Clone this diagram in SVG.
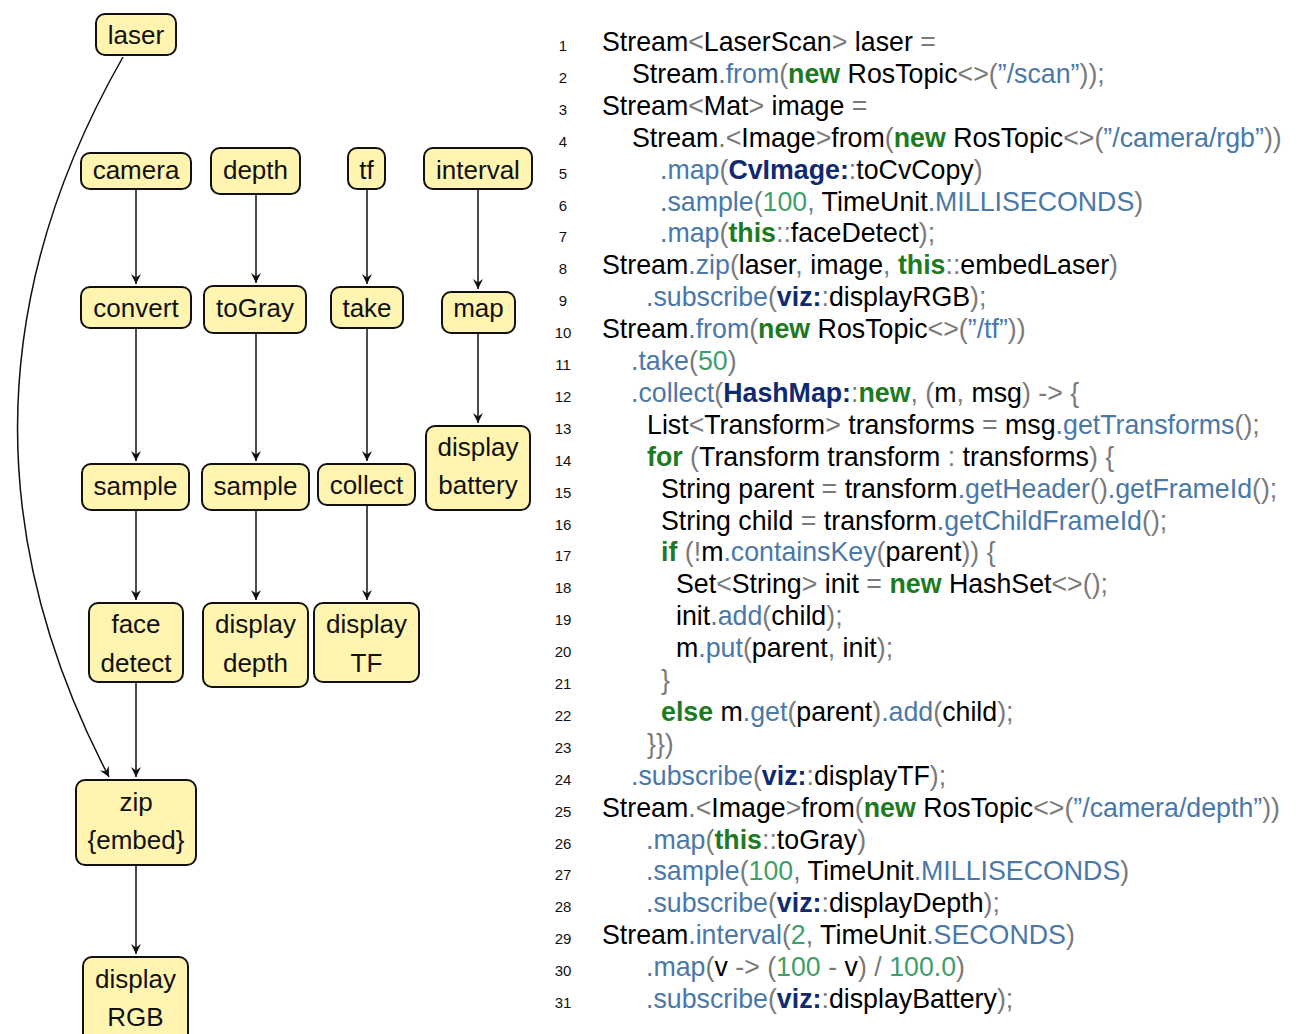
<svg xmlns="http://www.w3.org/2000/svg" width="1297" height="1034" viewBox="0 0 1297 1034">
<style>
.node rect{fill:#fff5b1;stroke:#111;stroke-width:2}
.node text{font-family:"Liberation Sans",Arial,sans-serif;font-size:26px;fill:#111;text-anchor:middle}
.edge{fill:none;stroke:#111;stroke-width:1.5}
.code{font-family:"Liberation Sans",Arial,sans-serif;font-size:26.75px;fill:#000;white-space:pre}
.ln{font-family:"Liberation Sans",Arial,sans-serif;font-size:15px;fill:#111;text-anchor:middle}
.p{fill:#7a7a7a}
.f{fill:#4a78a8}
.k{fill:#1d7a22;font-weight:bold}
.n{fill:#3f9f6c}
.t{fill:#0f2a70;font-weight:bold}
</style>
<defs>
<marker id="arr" viewBox="0 0 10 10" refX="10" refY="5" markerWidth="11" markerHeight="10" markerUnits="userSpaceOnUse" orient="auto">
<path d="M0,0 L10,5 L0,10 L3.5,5 z" fill="#111"/>
</marker>
</defs>

<g id="connectors">
<path class="edge" marker-end="url(#arr)" d="M123,57 C-10,290 -20,530 109,777"/>
<line class="edge" marker-end="url(#arr)" x1="136" y1="189" x2="136" y2="284"/>
<line class="edge" marker-end="url(#arr)" x1="256" y1="194" x2="256" y2="283"/>
<line class="edge" marker-end="url(#arr)" x1="367" y1="189" x2="367" y2="284"/>
<line class="edge" marker-end="url(#arr)" x1="478" y1="189" x2="478" y2="289"/>
<line class="edge" marker-end="url(#arr)" x1="136" y1="328" x2="136" y2="461"/>
<line class="edge" marker-end="url(#arr)" x1="256" y1="333" x2="256" y2="461"/>
<line class="edge" marker-end="url(#arr)" x1="367" y1="328" x2="367" y2="461"/>
<line class="edge" marker-end="url(#arr)" x1="478" y1="333" x2="478" y2="423"/>
<line class="edge" marker-end="url(#arr)" x1="136" y1="510" x2="136" y2="600"/>
<line class="edge" marker-end="url(#arr)" x1="256" y1="510" x2="256" y2="600"/>
<line class="edge" marker-end="url(#arr)" x1="367" y1="505" x2="367" y2="600"/>
<line class="edge" marker-end="url(#arr)" x1="136" y1="682" x2="136" y2="777"/>
<line class="edge" marker-end="url(#arr)" x1="136" y1="865" x2="136" y2="954"/>
</g>

<g id="laser" class="node"><rect x="96" y="14" width="80" height="41" rx="9"/><text x="136" y="44">laser</text></g>
<g id="camera" class="node"><rect x="81" y="153" width="110" height="36" rx="9"/><text x="136" y="179">camera</text></g>
<g id="depth" class="node"><rect x="211" y="148" width="89" height="46" rx="9"/><text x="255.5" y="179">depth</text></g>
<g id="tf" class="node"><rect x="348" y="148" width="37" height="41" rx="9"/><text x="366.5" y="179">tf</text></g>
<g id="interval" class="node"><rect x="424" y="148" width="108" height="41" rx="9"/><text x="478" y="179">interval</text></g>
<g id="convert" class="node"><rect x="81" y="287" width="110" height="41" rx="9"/><text x="136" y="317">convert</text></g>
<g id="toGray" class="node"><rect x="204" y="286" width="102" height="47" rx="9"/><text x="255" y="317">toGray</text></g>
<g id="take" class="node"><rect x="331" y="287" width="72" height="41" rx="9"/><text x="367" y="317">take</text></g>
<g id="map" class="node"><rect x="442" y="292" width="73" height="41" rx="9"/><text x="478.5" y="317">map</text></g>
<g id="sample1" class="node"><rect x="82" y="464" width="107" height="46" rx="9"/><text x="135.5" y="495">sample</text></g>
<g id="sample2" class="node"><rect x="202" y="464" width="107" height="46" rx="9"/><text x="255.5" y="495">sample</text></g>
<g id="collect" class="node"><rect x="318" y="464" width="97" height="41" rx="9"/><text x="366.5" y="494">collect</text></g>
<g id="displayBattery" class="node"><rect x="426" y="426" width="104" height="84" rx="9"/><text x="478" y="456">display</text><text x="478" y="494">battery</text></g>
<g id="faceDetect" class="node"><rect x="89" y="603" width="94" height="79" rx="9"/><text x="136" y="633">face</text><text x="136" y="672">detect</text></g>
<g id="displayDepth" class="node"><rect x="203" y="603" width="105" height="84" rx="9"/><text x="255.5" y="633">display</text><text x="255.5" y="672">depth</text></g>
<g id="displayTF" class="node"><rect x="314" y="603" width="105" height="79" rx="9"/><text x="366.5" y="633">display</text><text x="366.5" y="672">TF</text></g>
<g id="zip" class="node"><rect x="76" y="780" width="120" height="85" rx="9"/><text x="136" y="811">zip</text><text x="136" y="849">{embed}</text></g>
<g id="displayRGB" class="node"><rect x="83" y="957" width="105" height="85" rx="9"/><text x="135.5" y="988">display</text><text x="135.5" y="1026">RGB</text></g>

<g id="linenumbers">
<text class="ln" x="563" y="51">1</text>
<text class="ln" x="563" y="82.9">2</text>
<text class="ln" x="563" y="114.8">3</text>
<text class="ln" x="563" y="146.7">4</text>
<text class="ln" x="563" y="178.6">5</text>
<text class="ln" x="563" y="210.5">6</text>
<text class="ln" x="563" y="242.4">7</text>
<text class="ln" x="563" y="274.3">8</text>
<text class="ln" x="563" y="306.2">9</text>
<text class="ln" x="563" y="338.1">10</text>
<text class="ln" x="563" y="370">11</text>
<text class="ln" x="563" y="401.9">12</text>
<text class="ln" x="563" y="433.8">13</text>
<text class="ln" x="563" y="465.7">14</text>
<text class="ln" x="563" y="497.6">15</text>
<text class="ln" x="563" y="529.5">16</text>
<text class="ln" x="563" y="561.4">17</text>
<text class="ln" x="563" y="593.3">18</text>
<text class="ln" x="563" y="625.2">19</text>
<text class="ln" x="563" y="657.1">20</text>
<text class="ln" x="563" y="689">21</text>
<text class="ln" x="563" y="720.9">22</text>
<text class="ln" x="563" y="752.8">23</text>
<text class="ln" x="563" y="784.7">24</text>
<text class="ln" x="563" y="816.6">25</text>
<text class="ln" x="563" y="848.5">26</text>
<text class="ln" x="563" y="880.4">27</text>
<text class="ln" x="563" y="912.3">28</text>
<text class="ln" x="563" y="944.2">29</text>
<text class="ln" x="563" y="976.1">30</text>
<text class="ln" x="563" y="1008">31</text>
</g>

<g id="code">
<text class="code" x="602" y="51">Stream<tspan class="p">&lt;</tspan>LaserScan<tspan class="p">&gt;</tspan> laser <tspan class="p">=</tspan></text>
<text class="code" x="632" y="82.9">Stream<tspan class="f">.from</tspan><tspan class="p">(</tspan><tspan class="k">new</tspan> RosTopic<tspan class="p">&lt;&gt;(</tspan><tspan class="f">”/scan”</tspan><tspan class="p">));</tspan></text>
<text class="code" x="602" y="114.8">Stream<tspan class="p">&lt;</tspan>Mat<tspan class="p">&gt;</tspan> image <tspan class="p">=</tspan></text>
<text class="code" x="632" y="146.7">Stream<tspan class="p">.&lt;</tspan>Image<tspan class="p">&gt;</tspan>from<tspan class="p">(</tspan><tspan class="k">new</tspan> RosTopic<tspan class="p">&lt;&gt;(</tspan><tspan class="f">”/camera/rgb”</tspan><tspan class="p">))</tspan></text>
<text class="code" x="660" y="178.6"><tspan class="f">.map</tspan><tspan class="p">(</tspan><tspan class="t">CvImage:</tspan><tspan class="p">:</tspan>toCvCopy<tspan class="p">)</tspan></text>
<text class="code" x="660" y="210.5"><tspan class="f">.sample</tspan><tspan class="p">(</tspan><tspan class="n">100</tspan><tspan class="p">,</tspan> TimeUnit<tspan class="f">.MILLISECONDS</tspan><tspan class="p">)</tspan></text>
<text class="code" x="660" y="242.4"><tspan class="f">.map</tspan><tspan class="p">(</tspan><tspan class="k">this</tspan><tspan class="p">::</tspan>faceDetect<tspan class="p">);</tspan></text>
<text class="code" x="602" y="274.3">Stream<tspan class="f">.zip</tspan><tspan class="p">(</tspan>laser<tspan class="p">,</tspan> image<tspan class="p">,</tspan> <tspan class="k">this</tspan><tspan class="p">::</tspan>embedLaser<tspan class="p">)</tspan></text>
<text class="code" x="646" y="306.2"><tspan class="f">.subscribe</tspan><tspan class="p">(</tspan><tspan class="t">viz:</tspan><tspan class="p">:</tspan>displayRGB<tspan class="p">);</tspan></text>
<text class="code" x="602" y="338.1">Stream<tspan class="f">.from</tspan><tspan class="p">(</tspan><tspan class="k">new</tspan> RosTopic<tspan class="p">&lt;&gt;(</tspan><tspan class="f">”/tf”</tspan><tspan class="p">))</tspan></text>
<text class="code" x="631" y="370"><tspan class="f">.take</tspan><tspan class="p">(</tspan><tspan class="n">50</tspan><tspan class="p">)</tspan></text>
<text class="code" x="631" y="401.9"><tspan class="f">.collect</tspan><tspan class="p">(</tspan><tspan class="t">HashMap:</tspan><tspan class="p">:</tspan><tspan class="k">new</tspan><tspan class="p">,</tspan> <tspan class="p">(</tspan>m<tspan class="p">,</tspan> msg<tspan class="p">)</tspan> <tspan class="p">-&gt;</tspan> <tspan class="p">{</tspan></text>
<text class="code" x="647" y="433.8">List<tspan class="p">&lt;</tspan>Transform<tspan class="p">&gt;</tspan> transforms <tspan class="p">=</tspan> msg<tspan class="f">.getTransforms</tspan><tspan class="p">();</tspan></text>
<text class="code" x="647" y="465.7"><tspan class="k">for</tspan> <tspan class="p">(</tspan>Transform transform <tspan class="p">:</tspan> transforms<tspan class="p">)</tspan> <tspan class="p">{</tspan></text>
<text class="code" x="661" y="497.6">String parent <tspan class="p">=</tspan> transform<tspan class="f">.getHeader</tspan><tspan class="p">()</tspan><tspan class="f">.getFrameId</tspan><tspan class="p">();</tspan></text>
<text class="code" x="661" y="529.5">String child <tspan class="p">=</tspan> transform<tspan class="f">.getChildFrameId</tspan><tspan class="p">();</tspan></text>
<text class="code" x="661" y="561.4"><tspan class="k">if</tspan> <tspan class="p">(!</tspan>m<tspan class="f">.containsKey</tspan><tspan class="p">(</tspan>parent<tspan class="p">))</tspan> <tspan class="p">{</tspan></text>
<text class="code" x="676" y="593.3">Set<tspan class="p">&lt;</tspan>String<tspan class="p">&gt;</tspan> init <tspan class="p">=</tspan> <tspan class="k">new</tspan> HashSet<tspan class="p">&lt;&gt;();</tspan></text>
<text class="code" x="676" y="625.2">init<tspan class="f">.add</tspan><tspan class="p">(</tspan>child<tspan class="p">);</tspan></text>
<text class="code" x="676" y="657.1">m<tspan class="f">.put</tspan><tspan class="p">(</tspan>parent<tspan class="p">,</tspan> init<tspan class="p">);</tspan></text>
<text class="code" x="661" y="689"><tspan class="p">}</tspan></text>
<text class="code" x="661" y="720.9"><tspan class="k">else</tspan> m<tspan class="f">.get</tspan><tspan class="p">(</tspan>parent<tspan class="p">)</tspan><tspan class="f">.add</tspan><tspan class="p">(</tspan>child<tspan class="p">);</tspan></text>
<text class="code" x="647" y="752.8"><tspan class="p">}})</tspan></text>
<text class="code" x="631" y="784.7"><tspan class="f">.subscribe</tspan><tspan class="p">(</tspan><tspan class="t">viz:</tspan><tspan class="p">:</tspan>displayTF<tspan class="p">);</tspan></text>
<text class="code" x="602" y="816.6">Stream<tspan class="p">.&lt;</tspan>Image<tspan class="p">&gt;</tspan>from<tspan class="p">(</tspan><tspan class="k">new</tspan> RosTopic<tspan class="p">&lt;&gt;(</tspan><tspan class="f">”/camera/depth”</tspan><tspan class="p">))</tspan></text>
<text class="code" x="646" y="848.5"><tspan class="f">.map</tspan><tspan class="p">(</tspan><tspan class="k">this</tspan><tspan class="p">::</tspan>toGray<tspan class="p">)</tspan></text>
<text class="code" x="646" y="880.4"><tspan class="f">.sample</tspan><tspan class="p">(</tspan><tspan class="n">100</tspan><tspan class="p">,</tspan> TimeUnit<tspan class="f">.MILLISECONDS</tspan><tspan class="p">)</tspan></text>
<text class="code" x="646" y="912.3"><tspan class="f">.subscribe</tspan><tspan class="p">(</tspan><tspan class="t">viz:</tspan><tspan class="p">:</tspan>displayDepth<tspan class="p">);</tspan></text>
<text class="code" x="602" y="944.2">Stream<tspan class="f">.interval</tspan><tspan class="p">(</tspan><tspan class="n">2</tspan><tspan class="p">,</tspan> TimeUnit<tspan class="f">.SECONDS</tspan><tspan class="p">)</tspan></text>
<text class="code" x="646" y="976.1"><tspan class="f">.map</tspan><tspan class="p">(</tspan>v <tspan class="p">-&gt;</tspan> <tspan class="p">(</tspan><tspan class="n">100</tspan> <tspan class="p">-</tspan> v<tspan class="p">)</tspan> <tspan class="p">/</tspan> <tspan class="n">100.0</tspan><tspan class="p">)</tspan></text>
<text class="code" x="646" y="1008"><tspan class="f">.subscribe</tspan><tspan class="p">(</tspan><tspan class="t">viz:</tspan><tspan class="p">:</tspan>displayBattery<tspan class="p">);</tspan></text>
</g>
</svg>
